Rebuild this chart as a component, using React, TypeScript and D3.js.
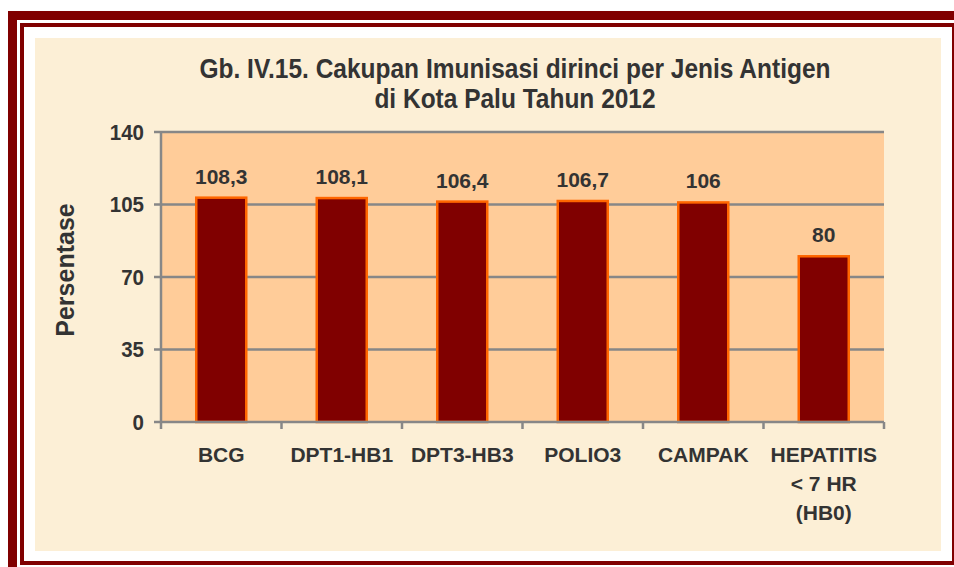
import React from "react";
import * as d3 from "d3";

const kategori = ["BCG", "DPT1-HB1", "DPT3-HB3", "POLIO3", "CAMPAK", "HEPATITIS\n< 7 HR\n(HB0)"];
const cakupan = [108.3, 108.1, 106.4, 106.7, 106, 80];
const labelNilai = ["108,3", "108,1", "106,4", "106,7", "106", "80"];
const tickY = [0, 35, 70, 105, 140];

const judul = ["Gb. IV.15. Cakupan Imunisasi dirinci per Jenis Antigen", "di Kota Palu Tahun 2012"];

const font = "'Liberation Sans', Arial, sans-serif";
const teks = "#333333";
const abu = "#878787";

const App = () => {
  const W = 954;
  const H = 567;
  const plot = { left: 161, right: 884, top: 132, bottom: 422 };

  const x = d3
    .scaleBand()
    .domain(kategori)
    .range([plot.left, plot.right])
    .paddingInner(0.585)
    .paddingOuter(0.2925);
  const xBatas = d3.scaleBand().domain(kategori).range([plot.left, plot.right]);
  const y = d3.scaleLinear().domain([0, 140]).range([plot.bottom, plot.top]);

  return (
    <svg
      width={W}
      height={H}
      style={{ position: "absolute", left: 0, top: 0, display: "block" }}
      fontFamily={font}
    >
      <rect width={W} height={H} fill="#ffffff" />
      {/* bingkai */}
      <rect x={12.5} y={15.5} width={970} height={580} fill="none" stroke="#800000" strokeWidth={9} />
      <rect x={22} y={25} width={932} height={538} fill="none" stroke="#800000" strokeWidth={4} />
      <rect x={35} y={38} width={906} height={513} fill="#fcefd6" />

      {/* judul, agak tinggi seperti aslinya */}
      {judul.map((t, i) => (
        <text
          key={i}
          transform={`translate(515, ${78 + i * 30}) scale(1, 1.12)`}
          textAnchor="middle"
          fontSize={24.5}
          fontWeight="bold"
          fill={teks}
        >
          {t}
        </text>
      ))}

      {/* area plot */}
      <rect
        x={plot.left}
        y={plot.top}
        width={plot.right - plot.left}
        height={plot.bottom - plot.top}
        fill="#ffcc99"
      />
      {tickY.map(t => (
        <g key={t}>
          <line x1={plot.left - 7} x2={t === 0 ? plot.left : plot.right} y1={y(t)} y2={y(t)} stroke={abu} strokeWidth={2.5} />
          <text
            transform={`translate(144, ${y(t) + 7.5}) scale(1, 1.08)`}
            textAnchor="end"
            fontSize={20.5}
            fontWeight="bold"
            fill={teks}
          >
            {t}
          </text>
        </g>
      ))}

      {cakupan.map((v, i) => (
        <g key={i}>
          <rect
            x={x(kategori[i])}
            y={y(v)}
            width={x.bandwidth()}
            height={y(0) - y(v)}
            fill="#800000"
            stroke="#ff6600"
            strokeWidth={2.5}
          />
          <text
            x={x(kategori[i]) + x.bandwidth() / 2}
            y={y(v) - 14}
            textAnchor="middle"
            fontSize={21}
            fontWeight="bold"
            fill={teks}
          >
            {labelNilai[i]}
          </text>
        </g>
      ))}

      {/* sumbu */}
      <line x1={plot.left} x2={plot.left} y1={plot.top} y2={plot.bottom} stroke={abu} strokeWidth={2.5} />
      <line x1={plot.left} x2={plot.right} y1={plot.bottom} y2={plot.bottom} stroke={abu} strokeWidth={2.5} />
      {[...kategori.map(k => xBatas(k)), plot.right].map((bx, i) => (
        <line key={i} x1={bx} x2={bx} y1={plot.bottom} y2={plot.bottom + 7} stroke={abu} strokeWidth={2.5} />
      ))}
      {kategori.map(k => (
        <text
          key={k}
          x={xBatas(k) + xBatas.bandwidth() / 2}
          y={462}
          textAnchor="middle"
          fontSize={21}
          fontWeight="bold"
          fill={teks}
        >
          {k.split("\n").map((baris, j) => (
            <tspan key={j} x={xBatas(k) + xBatas.bandwidth() / 2} dy={j === 0 ? 0 : 29}>
              {baris}
            </tspan>
          ))}
        </text>
      ))}

      <text
        transform={`translate(74, 270) rotate(-90)`}
        textAnchor="middle"
        fontSize={25}
        fontWeight="bold"
        fill={teks}
      >
        Persentase
      </text>
    </svg>
  );
};

export default App;
